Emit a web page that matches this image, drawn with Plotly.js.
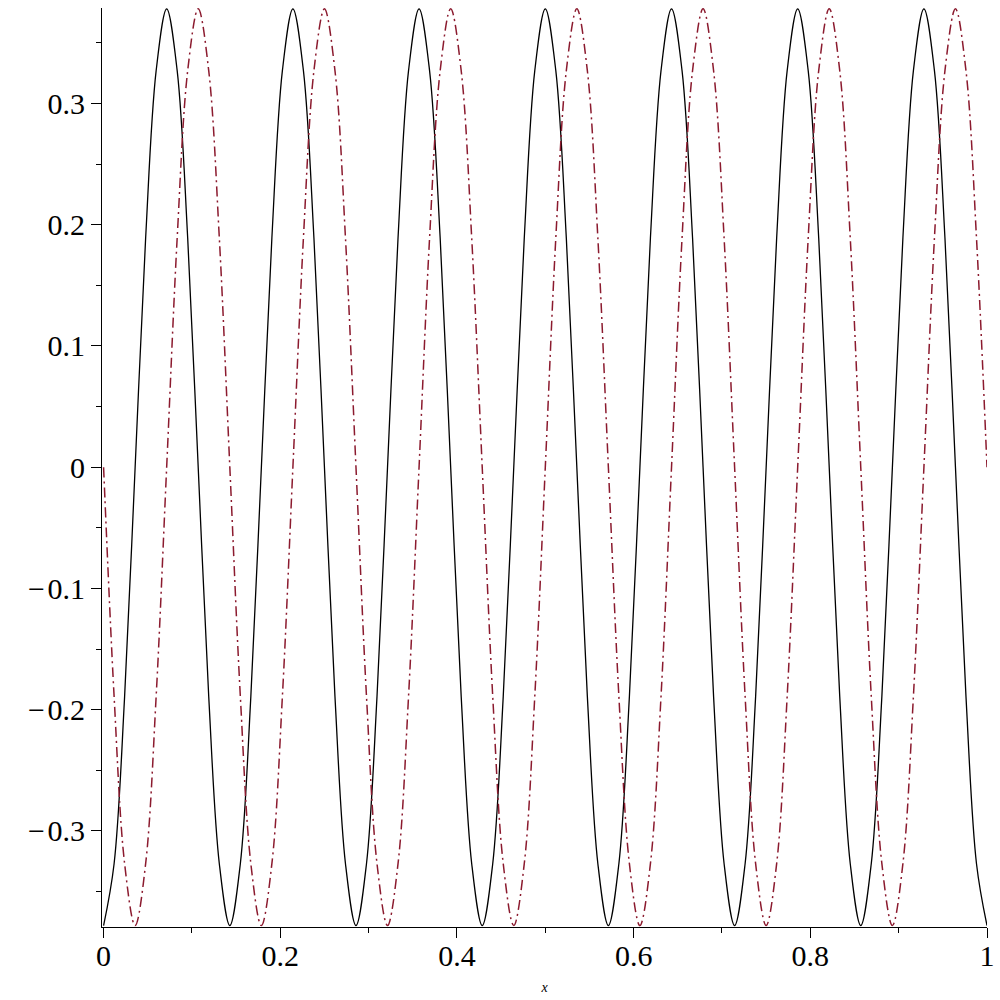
<!DOCTYPE html>
<html>
<head>
<meta charset="utf-8">
<script src="https://cdn.plot.ly/plotly-3.0.1.min.js"></script>
<style>html,body{margin:0;padding:0;background:#fff;}#chart{width:1000px;height:1000px;}</style>
</head>
<body>
<div id="chart"></div>
<script>
// x samples (every 1/12 of a period)
var xs = [
  0, 0.0119, 0.0238, 0.0357, 0.0476, 0.0595, 0.0714, 0.0833, 0.0952, 0.1071, 0.1190, 0.1310,
  0.1429, 0.1548, 0.1667, 0.1786, 0.1905, 0.2024, 0.2143, 0.2262, 0.2381, 0.2500, 0.2619, 0.2738,
  0.2857, 0.2976, 0.3095, 0.3214, 0.3333, 0.3452, 0.3571, 0.3690, 0.3810, 0.3929, 0.4048, 0.4167,
  0.4286, 0.4405, 0.4524, 0.4643, 0.4762, 0.4881, 0.5000, 0.5119, 0.5238, 0.5357, 0.5476, 0.5595,
  0.5714, 0.5833, 0.5952, 0.6071, 0.6190, 0.6310, 0.6429, 0.6548, 0.6667, 0.6786, 0.6905, 0.7024,
  0.7143, 0.7262, 0.7381, 0.7500, 0.7619, 0.7738, 0.7857, 0.7976, 0.8095, 0.8214, 0.8333, 0.8452,
  0.8571, 0.8690, 0.8810, 0.8929, 0.9048, 0.9167, 0.9286, 0.9405, 0.9524, 0.9643, 0.9762, 0.9881,
  1.0000
];
// solid black curve values
var blackY = [
  -0.378,-0.327,-0.189,0,0.189,0.327,0.378,0.327,0.189,0,-0.189,-0.327,
  -0.378,-0.327,-0.189,0,0.189,0.327,0.378,0.327,0.189,0,-0.189,-0.327,
  -0.378,-0.327,-0.189,0,0.189,0.327,0.378,0.327,0.189,0,-0.189,-0.327,
  -0.378,-0.327,-0.189,0,0.189,0.327,0.378,0.327,0.189,0,-0.189,-0.327,
  -0.378,-0.327,-0.189,0,0.189,0.327,0.378,0.327,0.189,0,-0.189,-0.327,
  -0.378,-0.327,-0.189,0,0.189,0.327,0.378,0.327,0.189,0,-0.189,-0.327,
  -0.378,-0.327,-0.189,0,0.189,0.327,0.378,0.327,0.189,0,-0.189,-0.327,
  -0.378
];
// dash-dot red curve values
var redY = [
  0,-0.189,-0.327,-0.378,-0.327,-0.189,0,0.189,0.327,0.378,0.327,0.189,
  0,-0.189,-0.327,-0.378,-0.327,-0.189,0,0.189,0.327,0.378,0.327,0.189,
  0,-0.189,-0.327,-0.378,-0.327,-0.189,0,0.189,0.327,0.378,0.327,0.189,
  0,-0.189,-0.327,-0.378,-0.327,-0.189,0,0.189,0.327,0.378,0.327,0.189,
  0,-0.189,-0.327,-0.378,-0.327,-0.189,0,0.189,0.327,0.378,0.327,0.189,
  0,-0.189,-0.327,-0.378,-0.327,-0.189,0,0.189,0.327,0.378,0.327,0.189,
  0,-0.189,-0.327,-0.378,-0.327,-0.189,0,0.189,0.327,0.378,0.327,0.189,
  0
];
var xTicks = [0, 0.2, 0.4, 0.6, 0.8, 1];
var xTickText = ["0", "0.2", "0.4", "0.6", "0.8", "1"];
var yTicks = [-0.3, -0.2, -0.1, 0, 0.1, 0.2, 0.3];
var yTickText = ["\u2212\u200A0.3", "\u2212\u200A0.2", "\u2212\u200A0.1", "0", "0.1", "0.2", "0.3"];

var traces = [
  {x: xs, y: blackY, type: 'scatter', mode: 'lines',
   line: {color: '#000000', width: 1.3, shape: 'spline', smoothing: 1}, hoverinfo: 'none'},
  {x: xs, y: redY, type: 'scatter', mode: 'lines',
   line: {color: '#8B1A2E', width: 1.5, dash: '10px,4px,2px,4px', shape: 'spline', smoothing: 1}, hoverinfo: 'none'}
];

var tickFont = {family: 'Liberation Serif, Times New Roman, serif', size: 30, color: '#000'};
var layout = {
  width: 1000, height: 1000,
  margin: {l: 102, r: 13, t: 8, b: 73, pad: 0},
  paper_bgcolor: '#fff', plot_bgcolor: '#fff',
  showlegend: false,
  xaxis: {
    range: [-0.0018, 1.0],
    tickmode: 'array', tickvals: xTicks, ticktext: xTickText,
    ticks: 'outside', ticklen: 10, tickwidth: 1, tickcolor: '#000',
    minor: {dtick: 0.1, tick0: 0, ticks: 'outside', ticklen: 5, tickwidth: 1, tickcolor: '#000', showgrid: false},
    showline: true, linecolor: '#000', linewidth: 1,
    showgrid: false, zeroline: false,
    tickfont: tickFont,
    ticklabelstandoff: -8,
    title: {text: '<i>x</i>', font: {family: 'Liberation Serif, Times New Roman, serif', size: 14, color: '#000'}, standoff: 11}
  },
  yaxis: {
    range: [-0.3792, 0.3787],
    tickmode: 'array', tickvals: yTicks, ticktext: yTickText,
    ticks: 'outside', ticklen: 10, tickwidth: 1, tickcolor: '#000',
    minor: {dtick: 0.05, tick0: 0, ticks: 'outside', ticklen: 5, tickwidth: 1, tickcolor: '#000', showgrid: false},
    showline: true, linecolor: '#000', linewidth: 1,
    showgrid: false, zeroline: false,
    tickfont: tickFont
  }
};
Plotly.newPlot('chart', traces, layout, {staticPlot: true, displayModeBar: false});
</script>
</body>
</html>
